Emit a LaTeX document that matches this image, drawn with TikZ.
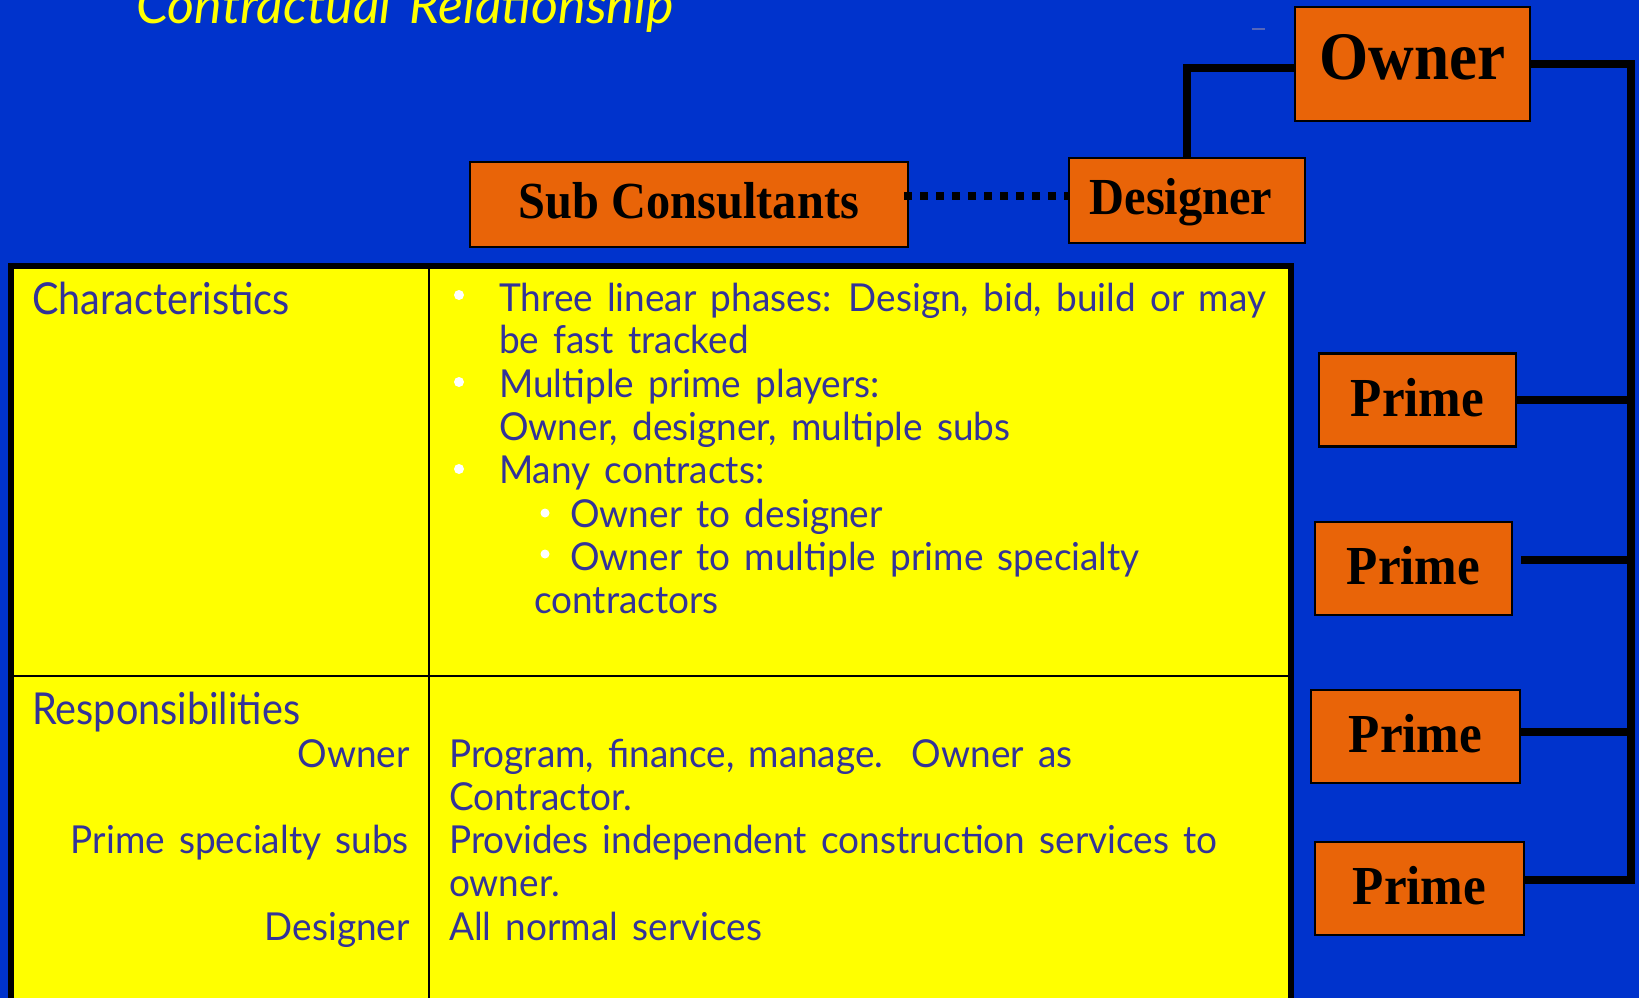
\documentclass[tikz,border=0pt]{standalone}
\usepackage{fontspec}
\setmainfont{Liberation Serif}
\newfontfamily\boxfont[FakeStretch=0.93]{Liberation Serif}
\newfontfamily\fut[FakeStretch=0.96,WordSpace=1.5]{Lato}
\newfontfamily\futh[FakeStretch=0.9]{Lato}
\newfontfamily\futt[WordSpace=1.5]{Lato}
\definecolor{bg}{HTML}{0033CC}
\definecolor{boxorange}{HTML}{E96408}
\definecolor{tabyellow}{HTML}{FFFF00}
\definecolor{txtblue}{HTML}{333399}
\definecolor{stray}{HTML}{5566BB}
\tikzset{
  box/.style={draw=black, line width=2.5pt, fill=boxorange, inner sep=0pt,
    font=\boxfont\bfseries, text=black, text depth=0pt},
  cell/.style={anchor=base west, inner sep=0pt, text=txtblue,
    font=\fut\fontsize{38.5}{43}\selectfont},
  cellr/.style={cell, anchor=base east},
  head/.style={cell, font=\futh\fontsize{44}{48}\selectfont},
  conn/.style={line width=8pt, black, line join=miter},
  dotline/.style={line width=8pt, black, dash pattern=on 8pt off 8pt},
  bul/.style={fill=white}
}
\begin{document}
\begin{tikzpicture}[x=1pt,y=-1pt]
\useasboundingbox (0,0) rectangle (1639,998);
\clip (0,0) rectangle (1639,998);
\fill[bg] (0,0) rectangle (1639,998);

% title
\node[anchor=base west, inner sep=0pt, text=tabyellow,
  font=\futt\itshape\fontsize{52}{56}\selectfont] (title) at (136,24) {Contractual Relationship};
\draw[stray, line width=2pt] (1252,29) -- (1265,29);

% table
\fill[tabyellow] (11,266) rectangle (1291,1010);
\draw[line width=2pt] (429,266) -- (429,1010);
\draw[line width=2pt] (11,676) -- (1291,676);
\draw[line width=6pt] (11,1010) -- (11,266) -- (1291,266) -- (1291,1010);

% left column
\node[head] (hchar) at (32,314) {Characteristics};
\node[head] (hresp) at (32,724) {Responsibilities};
\node[cellr] (rown) at (410,767) {Owner};
\node[cellr] (rprime) at (409,853) {Prime specialty subs};
\node[cellr] (rdes) at (410,940) {Designer};

% characteristics bullets
\fill[bul] (459,295) circle (5);
\fill[bul] (459,382) circle (5);
\fill[bul] (459,469) circle (5);
\fill[bul] (545,513) circle (4.5);
\fill[bul] (545,554) circle (4.5);
\node[cell] (c1) at (499,311) {Three linear phases: Design, bid, build or may};
\node[cell] (c2) at (499,353) {be fast tracked};
\node[cell] (c3) at (499,397) {Multiple prime players:};
\node[cell] (c4) at (499,440) {Owner, designer, multiple subs};
\node[cell] (c5) at (499,483) {Many contracts:};
\node[cell] (c6) at (570,527) {Owner to designer};
\node[cell] (c7) at (570,570) {Owner to multiple prime specialty};
\node[cell] (c8) at (534,613) {contractors};

% responsibilities text
\node[cell] (r1) at (449,767) {Program, finance, manage.\ \ Owner as};
\node[cell] (r2) at (449,810) {Contractor.};
\node[cell] (r3) at (449,853) {Provides independent construction services to};
\node[cell] (r4) at (449,896) {owner.};
\node[cell] (r5) at (449,940) {All normal services};

% boxes
\node[box, minimum width=235pt, minimum height=114pt, text height=32pt,
  font=\boxfont\bfseries\fontsize{68}{70}\selectfont] (owner) at (1412.5,64) {Owner};
\node[box, minimum width=236pt, minimum height=85pt, text height=27pt,
  font=\boxfont\bfseries\fontsize{52}{54}\selectfont] (designer) at (1187,200.5) {\hspace*{-12pt}Designer};
\node[box, minimum width=438pt, minimum height=85pt, text height=27pt,
  font=\boxfont\bfseries\fontsize{52}{54}\selectfont] (sub) at (689,204.5) {Sub Consultants};
\tikzset{primebox/.style={box, minimum height=93pt, text height=32pt,
  font=\boxfont\bfseries\fontsize{55}{57}\selectfont}}
\node[primebox, minimum width=197pt] (p1) at (1417.5,400) {Prime};
\node[primebox, minimum width=197pt] (p2) at (1413.5,568.5) {Prime};
\node[primebox, minimum width=209pt] (p3) at (1415.5,736.5) {Prime};
\node[primebox, minimum width=209pt] (p4) at (1419.5,888.5) {Prime};

% connectors
\coordinate (busbot) at (1631,880);
\draw[conn] ([yshift=-4pt]owner.west) -| (designer.north);
\draw[conn] (owner.east) -| (busbot) -- ([yshift=8.5pt]p4.east);
\draw[conn] (p1.east) -- (p1.east -| busbot);
\draw[conn, shorten <=8pt] ([yshift=8.5pt]p2.east) -- ([yshift=8.5pt]p2.east -| busbot);
\draw[conn] ([yshift=4.5pt]p3.east) -- ([yshift=4.5pt]p3.east -| busbot);
\draw[dotline] ([xshift=-5pt,yshift=8.5pt]sub.east) -- ([yshift=4.5pt]designer.west);
\end{tikzpicture}
\end{document}
